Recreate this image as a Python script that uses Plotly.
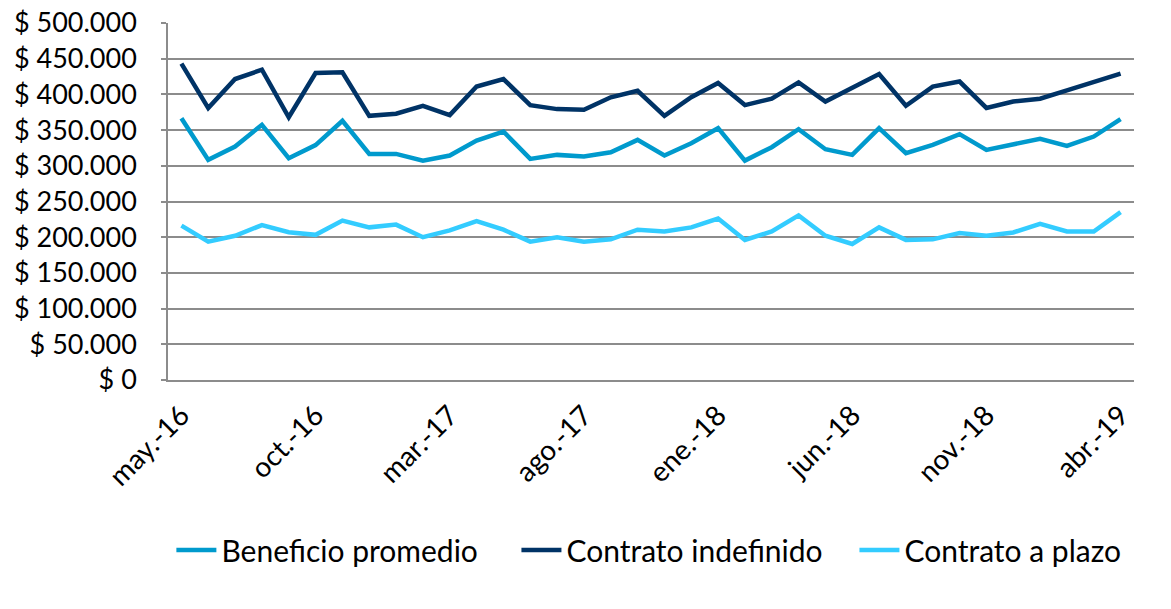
import plotly.graph_objects as go

months_es = ["ene", "feb", "mar", "abr", "may", "jun", "jul", "ago", "sep", "oct", "nov", "dic"]
# May 2016 .. Apr 2019 (36 months)
categories = []
for k in range(36):
    m = (4 + k) % 12
    y = 16 + (4 + k) // 12
    categories.append(f"{months_es[m]}.-{y}")

beneficio_promedio = [366700, 308300, 327000, 357400, 310600, 329000, 363000, 316700, 316700, 307300,
                      314400, 335400, 348000, 309700, 315300, 313000, 319000, 336300, 314400, 331700,
                      352700, 307300, 326000, 351300, 323200, 315300, 352700, 317600, 329300, 344300,
                      322300, 330000, 337700, 328000, 341000, 365300]
contrato_indefinido = [443000, 380800, 421500, 434600, 368000, 430000, 431000, 370000, 373000, 384000,
                       371000, 411000, 421500, 385000, 379400, 378400, 396000, 405000, 370000, 396000,
                       416000, 385000, 394000, 416800, 390000, 410000, 428500, 384000, 411000, 418000,
                       381000, 390000, 394000, 405600, 417000, 429000]
contrato_plazo = [216200, 193800, 202000, 217000, 207000, 203300, 223300, 213800, 217600, 200000,
                  209500, 222400, 210500, 193800, 200000, 193800, 197000, 210500, 208000, 213800,
                  226200, 196200, 208000, 230500, 202000, 190500, 213800, 196200, 197000, 205700,
                  202000, 206700, 218600, 208000, 208000, 235200]

y_tick_vals = [0, 50000, 100000, 150000, 200000, 250000, 300000, 350000, 400000, 450000, 500000]
y_tick_text = ["$ 0", "$ 50.000", "$ 100.000", "$ 150.000", "$ 200.000", "$ 250.000",
               "$ 300.000", "$ 350.000", "$ 400.000", "$ 450.000", "$ 500.000"]
x_tick_idx = [0, 5, 10, 15, 20, 25, 30, 35]

FONT = "Lato"

fig = go.Figure()
fig.add_trace(go.Scatter(x=categories, y=beneficio_promedio, mode="lines", name="Beneficio promedio",
                         line=dict(color="#009ACD", width=4.5), legend="legend"))
fig.add_trace(go.Scatter(x=categories, y=contrato_indefinido, mode="lines", name="Contrato indefinido",
                         line=dict(color="#003366", width=4.5), legend="legend2"))
fig.add_trace(go.Scatter(x=categories, y=contrato_plazo, mode="lines", name="Contrato a plazo",
                         line=dict(color="#33CCFF", width=4.5), legend="legend3"))

leg_common = dict(orientation="h", xanchor="left", y=-0.476, yanchor="middle",
                  font=dict(family=FONT, size=30, color="black"), itemwidth=40,
                  bgcolor="rgba(0,0,0,0)")

fig.update_layout(
    width=1171, height=609,
    margin=dict(l=168, r=37, t=23, b=229),
    paper_bgcolor="white", plot_bgcolor="white",
    font=dict(family=FONT, color="black", size=27),
    showlegend=True,
    legend=dict(x=0.0035, **leg_common),
    legend2=dict(x=0.3607, **leg_common),
    legend3=dict(x=0.7106, **leg_common),
)
fig.update_xaxes(
    type="category",
    range=[-0.5, 35.5],
    tickmode="array",
    tickvals=[categories[i] for i in x_tick_idx],
    ticktext=[categories[i] for i in x_tick_idx],
    tickangle=-45,
    tickfont=dict(family=FONT, size=28, color="black"),
    showgrid=False,
    showline=True, linecolor="#8C8C8C", linewidth=1.5,
    ticks="", zeroline=False, automargin=False,
    ticklabelstandoff=6, ticklabeloverflow="allow",
)
fig.update_yaxes(
    range=[0, 500000],
    tickmode="array", tickvals=y_tick_vals, ticktext=y_tick_text,
    tickfont=dict(family=FONT, size=27, color="black"),
    showgrid=True, gridcolor="#8C8C8C", gridwidth=1.5,
    showline=True, linecolor="#8C8C8C", linewidth=1.5,
    ticks="outside", ticklen=5, tickcolor="#8C8C8C", tickwidth=1.5,
    ticklabelstandoff=19, ticklabeloverflow="allow",
    zeroline=False, automargin=False,
)

fig.write_html("out.html", config={"displayModeBar": False},
               post_script="document.body.style.margin='0px';")
